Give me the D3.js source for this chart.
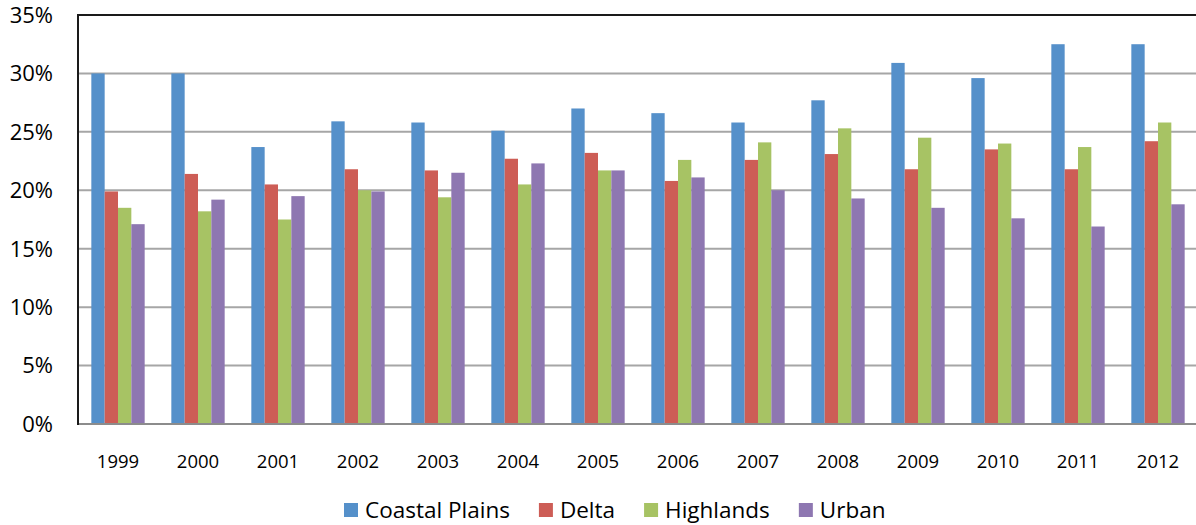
<!DOCTYPE html>
<html>
<head>
<meta charset="utf-8">
<script src="https://cdn.jsdelivr.net/npm/d3@7"></script>
<style>
  body { margin: 0; background: #fff; }
  svg text { font-family: "Open Sans", "Liberation Sans", sans-serif; fill: #000; }
</style>
</head>
<body>
<div id="chart"></div>
<script>
const years = ["1999", "2000", "2001", "2002", "2003", "2004", "2005", "2006", "2007", "2008", "2009", "2010", "2011", "2012"];
const seriesNames = ["Coastal Plains", "Delta", "Highlands", "Urban"];
const coastalPlains = [30.0, 30.0, 23.7, 25.9, 25.8, 25.1, 27.0, 26.6, 25.8, 27.7, 30.9, 29.6, 32.5, 32.5];
const delta = [19.9, 21.4, 20.5, 21.8, 21.7, 22.7, 23.2, 20.8, 22.6, 23.1, 21.8, 23.5, 21.8, 24.2];
const highlands = [18.5, 18.2, 17.5, 20.0, 19.4, 20.5, 21.7, 22.6, 24.1, 25.3, 24.5, 24.0, 23.7, 25.8];
const urban = [17.1, 19.2, 19.5, 19.9, 21.5, 22.3, 21.7, 21.1, 20.0, 19.3, 18.5, 17.6, 16.9, 18.8];
const yTicks = [0, 5, 10, 15, 20, 25, 30, 35];
const colors = ["#5590CA", "#CD5D56", "#A7C364", "#8E77B1"];

const seriesValues = [coastalPlains, delta, highlands, urban];

const width = 1196, height = 525;
const margin = { top: 15, right: -2, bottom: 101, left: 78 };
const chartWidth = width - margin.left - margin.right;
const chartHeight = height - margin.top - margin.bottom;

const svg = d3.select("#chart").append("svg")
  .attr("width", width)
  .attr("height", height);

const g = svg.append("g")
  .attr("transform", `translate(${margin.left},${margin.top})`);

const x = d3.scaleBand()
  .domain(years)
  .range([0, chartWidth])
  .paddingInner(1 / 3)
  .paddingOuter(1 / 6);

const xs = d3.scaleBand()
  .domain(seriesNames)
  .range([0, x.bandwidth()]);

const y = d3.scaleLinear()
  .domain([0, 35])
  .range([chartHeight, 0]);

// gridlines
g.selectAll(".grid")
  .data(yTicks.filter(t => t > 0 && t < 35))
  .enter().append("line")
  .attr("x1", 0)
  .attr("x2", chartWidth)
  .attr("y1", d => y(d))
  .attr("y2", d => y(d))
  .attr("stroke", "#A6A6A6")
  .attr("stroke-width", 2);

// bars
const groups = g.selectAll(".year")
  .data(years)
  .enter().append("g")
  .attr("transform", d => `translate(${x(d)},0)`);

groups.selectAll("rect")
  .data((d, i) => seriesNames.map((s, j) => ({ s, j, v: seriesValues[j][i] })))
  .enter().append("rect")
  .attr("x", d => xs(d.s))
  .attr("y", d => y(d.v))
  .attr("width", xs.bandwidth())
  .attr("height", d => chartHeight - y(d.v))
  .attr("fill", d => colors[d.j]);

// bottom axis line (gray)
g.append("line")
  .attr("x1", 0).attr("x2", chartWidth)
  .attr("y1", chartHeight).attr("y2", chartHeight)
  .attr("stroke", "#8C8C8C")
  .attr("stroke-width", 2);

// top frame + left axis
g.append("line")
  .attr("x1", 0).attr("x2", chartWidth)
  .attr("y1", 0).attr("y2", 0)
  .attr("stroke", "#1A1A1A")
  .attr("stroke-width", 2);
g.append("line")
  .attr("x1", 0).attr("x2", 0)
  .attr("y1", -1).attr("y2", chartHeight + 1)
  .attr("stroke", "#1A1A1A")
  .attr("stroke-width", 2);

// y labels
g.selectAll(".ylab")
  .data(yTicks)
  .enter().append("text")
  .attr("x", -25)
  .attr("y", d => y(d))
  .attr("dy", "0.36em")
  .attr("text-anchor", "end")
  .attr("font-size", 22)
  .text(d => d + "%");

// x labels
g.selectAll(".xlab")
  .data(years)
  .enter().append("text")
  .attr("x", d => x(d) + x.bandwidth() / 2)
  .attr("y", chartHeight + 44)
  .attr("text-anchor", "middle")
  .attr("font-size", 18.5)
  .text(d => d);

// legend
const legend = svg.append("g").attr("transform", "translate(344,510)");
let lx = 0;
seriesNames.forEach((name, i) => {
  const item = legend.append("g").attr("transform", `translate(${lx},0)`);
  item.append("rect")
    .attr("x", 0).attr("y", -7)
    .attr("width", 14).attr("height", 14)
    .attr("fill", colors[i]);
  const t = item.append("text")
    .attr("x", 21)
    .attr("y", 0)
    .attr("dy", "0.36em")
    .attr("font-size", 22.5)
    .text(name);
  lx += 21 + t.node().getComputedTextLength() + 29;
});
</script>
</body>
</html>
